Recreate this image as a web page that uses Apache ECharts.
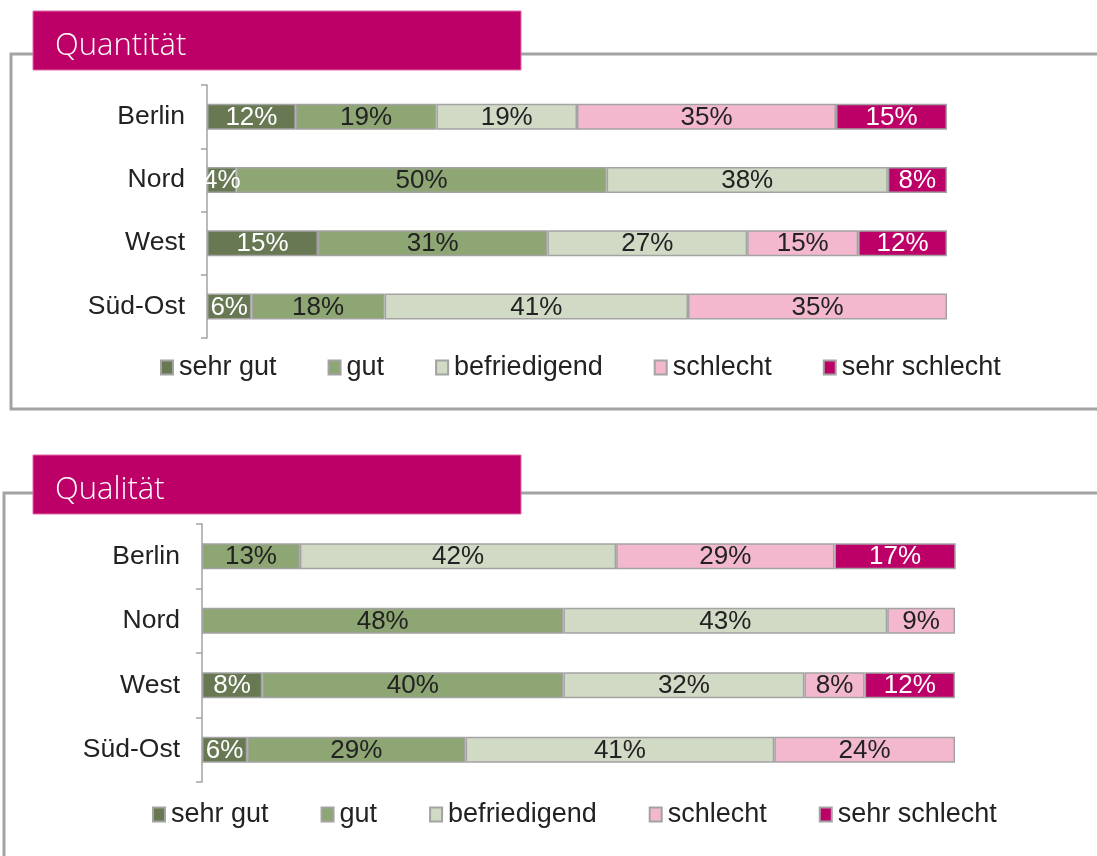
<!DOCTYPE html>
<html>
<head>
<meta charset="utf-8">
<script src="https://cdn.jsdelivr.net/npm/echarts@6/dist/echarts.min.js"></script>
<style>
  html, body { margin: 0; padding: 0; background: #ffffff; }
  #chart { width: 1097px; height: 856px; }
</style>
</head>
<body>
<div id="chart"></div>
<script>
// Regions and rating levels
const regions = ['Berlin', 'Nord', 'West', 'Süd-Ost'];
const ratings = ['sehr gut', 'gut', 'befriedigend', 'schlecht', 'sehr schlecht'];

// Quantität: share per rating level, one value per region
const quantSehrGut      = [12, 4, 15, 6];
const quantGut          = [19, 50, 31, 18];
const quantBefriedigend = [19, 38, 27, 41];
const quantSchlecht     = [35, 0, 15, 35];
const quantSehrSchlecht = [15, 8, 12, 0];

// Qualität: share per rating level, one value per region
const qualSehrGut      = [0, 0, 8, 6];
const qualGut          = [13, 48, 40, 29];
const qualBefriedigend = [42, 43, 32, 41];
const qualSchlecht     = [29, 9, 8, 24];
const qualSehrSchlecht = [17, 0, 12, 0];

const panelTitles = ['Quantität', 'Qualität'];

const colors = ['#677853', '#8DA674', '#D0DAC5', '#F3B8CE', '#BC0067'];
const labelColors = ['#ffffff', '#222222', '#222222', '#222222', '#ffffff'];
const GRAY = '#A3A3A3';
const MAGENTA = '#BC0067';
const FONT = '"Liberation Sans", Arial, sans-serif';

const quant = [quantSehrGut, quantGut, quantBefriedigend, quantSchlecht, quantSehrSchlecht];
const qual = [qualSehrGut, qualGut, qualBefriedigend, qualSchlecht, qualSehrSchlecht];

function makeSeries(sets, gridIdx) {
  return sets.map((vals, i) => ({
    name: ratings[i],
    type: 'bar',
    stack: 'panel' + gridIdx,
    xAxisIndex: gridIdx,
    yAxisIndex: gridIdx,
    barWidth: 26,
    data: vals.map(v => (v === 0 ? '-' : v)),
    itemStyle: { color: colors[i], borderColor: GRAY, borderWidth: 1.5 },
    label: {
      show: true,
      position: 'inside',
      formatter: p => p.value + '%',
      color: labelColors[i],
      fontFamily: FONT,
      fontSize: 26,
      offset: [0, 1]
    },
    emphasis: { disabled: true },
    animation: false
  }));
}

function yAxis(gridIdx) {
  return {
    type: 'category',
    gridIndex: gridIdx,
    data: regions,
    inverse: true,
    axisLine: { show: true, lineStyle: { color: GRAY, width: 1.5 } },
    axisTick: { show: true, length: 6, lineStyle: { color: GRAY, width: 1.5 } },
    axisLabel: { color: '#222222', fontFamily: FONT, fontSize: 26.5, margin: 22 },
    splitLine: { show: false }
  };
}

function xAxis(gridIdx) {
  return {
    type: 'value',
    gridIndex: gridIdx,
    min: 0,
    max: 100,
    show: false
  };
}

function legend(top, left, gap) {
  return {
    data: ratings,
    top: top,
    left: left,
    icon: 'rect',
    itemWidth: 12,
    itemHeight: 14,
    itemGap: gap,
    textStyle: { color: '#222222', fontFamily: FONT, fontSize: 27, padding: [0, 0, 0, 1] },
    selectedMode: false
  };
}

function panelTitle(text, x, y, w, h) {
  return [
    {
      type: 'rect',
      shape: { x: x, y: y, width: w, height: h },
      style: { fill: MAGENTA, stroke: '#E36AA6', lineWidth: 1 },
      z: 10
    },
    {
      type: 'text',
      x: x + 22,
      y: y + 35,
      style: {
        text: text,
        fill: '#ffffff',
        fontFamily: '"Open Sans", "Noto Sans", sans-serif',
        fontWeight: 300,
        fontSize: 31,
        verticalAlign: 'middle',
        textAlign: 'left'
      },
      z: 11
    }
  ];
}

const chart = echarts.init(document.getElementById('chart'), null, { renderer: 'canvas' });

const option = {
  backgroundColor: '#ffffff',
  animation: false,
  grid: [
    { left: 207, top: 85, width: 740, height: 253 },
    { left: 202, top: 524, width: 753, height: 258 }
  ],
  xAxis: [xAxis(0), xAxis(1)],
  yAxis: [yAxis(0), yAxis(1)],
  legend: [legend(349, 155, 51), legend(796, 147, 52)],
  series: makeSeries(quant, 0).concat(makeSeries(qual, 1)),
  graphic: [
    // frame of the upper panel
    {
      type: 'polyline',
      shape: { points: [[1100, 54], [11, 54], [11, 409], [1100, 409]] },
      style: { stroke: GRAY, lineWidth: 3, fill: null },
      z: 5
    },
    // frame of the lower panel
    {
      type: 'polyline',
      shape: { points: [[1100, 493], [4, 493], [4, 860]] },
      style: { stroke: GRAY, lineWidth: 3, fill: null },
      z: 5
    }
  ]
    .concat(panelTitle(panelTitles[0], 33, 11, 488, 59))
    .concat(panelTitle(panelTitles[1], 33, 455, 488, 59))
};

chart.setOption(option);
</script>
</body>
</html>
